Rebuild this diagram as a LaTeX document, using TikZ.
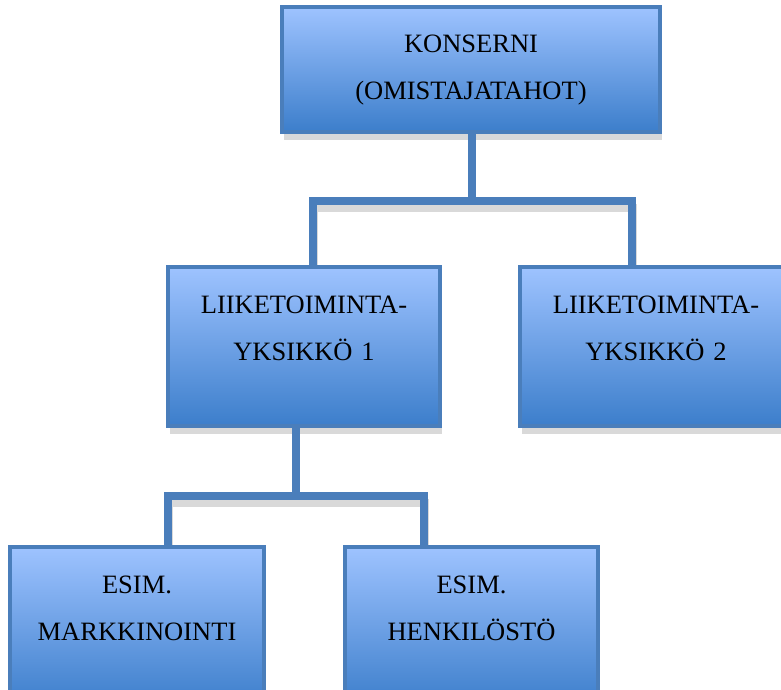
\documentclass[tikz,border=0pt]{standalone}
\usepackage{fontspec}
\setmainfont{Liberation Serif}
\usepackage{tikz}
\usetikzlibrary{calc,shadows,backgrounds}
\definecolor{orgtop}{RGB}{158,195,255}
\definecolor{orgbottom}{RGB}{60,126,203}
\definecolor{orgline}{RGB}{74,126,187}
\tikzset{
  orgbox/.style     = {draw=orgline, line width=4pt, top color=orgtop, bottom color=orgbottom, anchor=north, align=center, inner sep=0pt, font=\fontsize{26.5}{47}\selectfont, general shadow={fill=black!15, shadow xshift=2pt, shadow yshift=-8pt}},
  link/.style       = {draw=orgline, line width=8pt},
  linkshadow/.style = {draw=black!15, line width=8pt, transform canvas={shift={(1pt,-7pt)}}},
}

\begin{document}
\begin{tikzpicture}[x=1pt,y=-1pt]
  \useasboundingbox (0,0) rectangle (781,689);
  \node[orgbox, text width=378pt, text height=45pt, text depth=80pt] (konserni) at (471,5) {KONSERNI\\(OMISTAJATAHOT)};
  \node[orgbox, text width=272pt, text height=46pt, text depth=113pt] (yks1) at (304,265) {LIIKETOIMINTA-\\YKSIKKÖ 1};
  \node[orgbox, text width=272pt, text height=46pt, text depth=113pt] (yks2) at (656,265) {LIIKETOIMINTA-\\YKSIKKÖ 2};
  \node[orgbox, text width=254pt, text height=46pt, text depth=113pt] (mark) at (137,545) {ESIM.\\MARKKINOINTI};
  \node[orgbox, text width=253pt, text height=46pt, text depth=113pt] (henk) at (471.5,545) {ESIM.\\HENKILÖSTÖ};
  \coordinate (j1) at (472,201);
  \coordinate (j2) at (296,496);
  % connector shadows
  \begin{scope}[on background layer]
    \draw[linkshadow] ([xshift=9pt]yks1.north) |- (j1) -| ([xshift=-24pt]yks2.north);
    \draw[linkshadow] ([xshift=31pt]mark.north) |- (j2) -| ([xshift=-47.5pt]henk.north);
  \end{scope}
  \draw[link] ([xshift=1pt]konserni.south) -- ([xshift=1pt]konserni.south |- j1);
  \draw[link] ([xshift=9pt]yks1.north) |- (j1) -| ([xshift=-24pt]yks2.north);
  \draw[link] ([xshift=-8pt]yks1.south) -- ([xshift=-8pt]yks1.south |- j2);
  \draw[link] ([xshift=31pt]mark.north) |- (j2) -| ([xshift=-47.5pt]henk.north);
\end{tikzpicture}
\end{document}
